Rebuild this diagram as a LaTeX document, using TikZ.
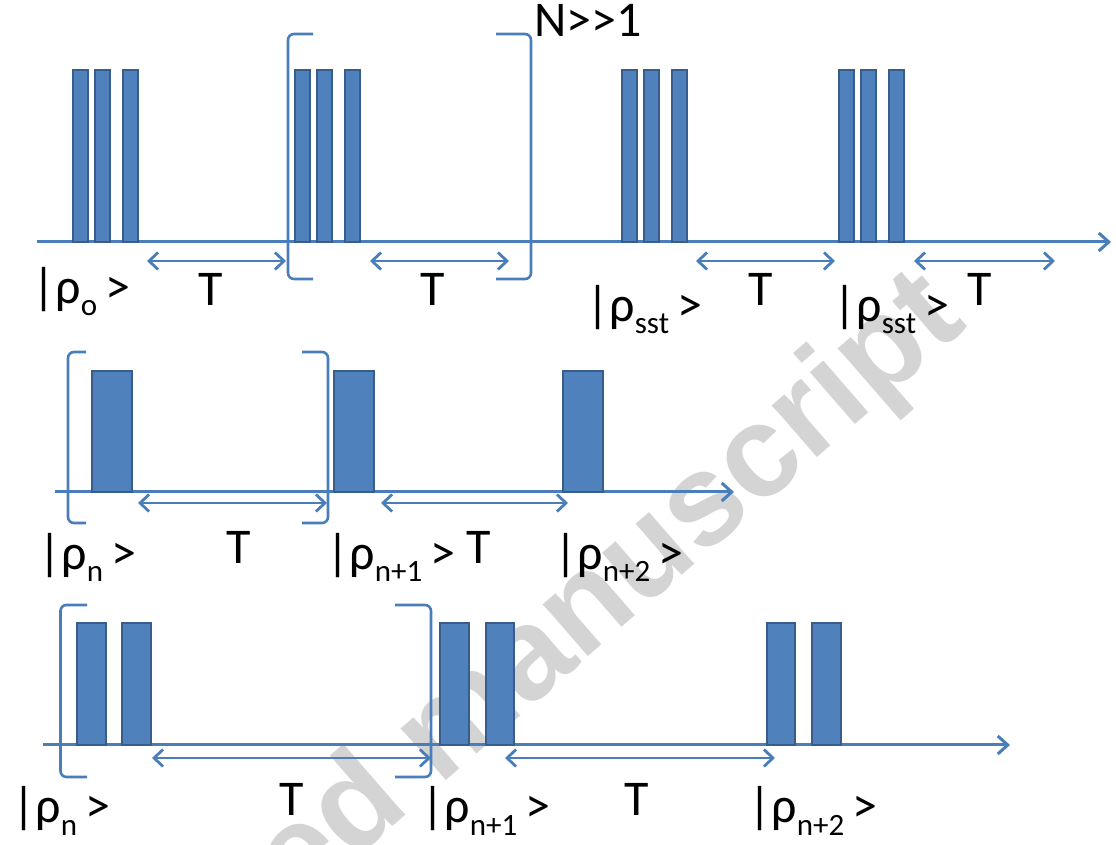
\documentclass[tikz,border=0pt]{standalone}
\usepackage{fontspec}
\setmainfont{Carlito}
\newfontfamily\stampfont{Liberation Sans}
\usepackage{xcolor}
\usetikzlibrary{arrows.meta}
\definecolor{cBar}{HTML}{4F81BD}
\definecolor{cBarEdge}{HTML}{385D8A}
\definecolor{cLine}{HTML}{4A7EBB}
\definecolor{cStamp}{HTML}{D4D4D4}
\newcommand{\rhoket}[1]{|ρ\raisebox{-6pt}{\fontsize{15.5}{15.5}\selectfont #1}\kern4pt>}
\tikzset{
  pulse/.style={draw=cBarEdge,fill=cBar,line width=1pt},
  timeaxis/.style={-{Straight Barb[length=5pt,width=9pt]},line width=1.5pt,draw=cLine},
  period/.style={{Straight Barb[length=4.5pt,width=8.5pt]}-{Straight Barb[length=4.5pt,width=8.5pt]},
                 line width=1.4pt,draw=cLine},
  bracket/.style={draw=cLine,line width=1.3pt,rounded corners=3pt},
  plabel/.style={anchor=base,inner sep=0pt,font=\fontsize{25}{30}\selectfont},
  slabel/.style={anchor=base west,inner sep=0pt,font=\fontsize{25}{30}\selectfont},
  stamp/.style={anchor=base,inner sep=0pt,rotate=41,text=cStamp,
                font=\stampfont\bfseries\fontsize{65}{65}\selectfont},
}

\begin{document}
\begin{tikzpicture}[x=0.5pt,y=-0.5pt]
\useasboundingbox (0,0) rectangle (1116,845);
\clip (0,0) rectangle (1116,845);
\fill[white] (0,0) rectangle (1116,845);

% ---------------------------------------------------------------- watermark
\node[stamp] (wm) at (470,760) {Accepted manuscript};

% ---------------------------------------------------------------- ROW 1
\coordinate (ax1s) at (37,242);
\coordinate (ax1e) at (1111,242);
\draw[timeaxis] (ax1s) -- (ax1e);

\draw[pulse] (72.5,70) rectangle ++(15,172);
\draw[pulse] (94.5,70) rectangle ++(15,172);
\draw[pulse] (122.5,70) rectangle ++(15,172);
\draw[pulse] (294.5,70) rectangle ++(15,172);
\draw[pulse] (316.5,70) rectangle ++(15,172);
\draw[pulse] (344.5,70) rectangle ++(15,172);
\draw[pulse] (621.5,70) rectangle ++(15,172);
\draw[pulse] (643.5,70) rectangle ++(15,172);
\draw[pulse] (671.5,70) rectangle ++(15,172);
\draw[pulse] (839,70) rectangle ++(15,172);
\draw[pulse] (861,70) rectangle ++(15,172);
\draw[pulse] (889,70) rectangle ++(15,172);

\draw[bracket] (313,34) -- (288,34) -- (288,279) -- (313,279);
\draw[bracket] (496,34) -- (531,34) -- (531,279) -- (496,279);

\coordinate (p1a) at (147,261);  \coordinate (p1b) at (286,261);
\coordinate (p2a) at (370,261);  \coordinate (p2b) at (509,261);
\coordinate (p3a) at (696,261);  \coordinate (p3b) at (835,261);
\coordinate (p4a) at (914,261);  \coordinate (p4b) at (1055,261);
\draw[period] (p1a) -- (p1b);
\draw[period] (p2a) -- (p2b);
\draw[period] (p3a) -- (p3b);
\draw[period] (p4a) -- (p4b);

\node[plabel] (T1) at (211,306) {T};
\node[plabel] (T2) at (433,306) {T};
\node[plabel] (T3) at (761,306) {T};
\node[plabel] (T4) at (980,306) {T};

\node[slabel] (N) at (534,37) {N>\kern0pt>1};
\node[slabel] (r0) at (32,304) {\rhoket{o}};
\node[slabel] (rs1) at (586,322) {\rhoket{sst}};
\node[slabel] (rs2) at (833,322) {\rhoket{sst}};

% ---------------------------------------------------------------- ROW 2
\coordinate (ax2s) at (55,492);
\coordinate (ax2e) at (734,492);
\draw[timeaxis] (ax2s) -- (ax2e);

\draw[pulse] (92,371) rectangle ++(40,121);
\draw[pulse] (333.5,371) rectangle ++(40,121);
\draw[pulse] (562.5,371) rectangle ++(40,121);

\draw[bracket] (86,352) -- (68,352) -- (68,523) -- (86,523);
\draw[bracket] (302,352) -- (328,352) -- (328,523) -- (302,523);

\coordinate (q1a) at (138,503);  \coordinate (q1b) at (327,503);
\coordinate (q2a) at (381,503);  \coordinate (q2b) at (568,503);
\draw[period] (q1a) -- (q1b);
\draw[period] (q2a) -- (q2b);

\node[plabel] (T5) at (239,564) {T};
\node[plabel] (T6) at (479,564) {T};

\node[slabel] (rn) at (38,570) {\rhoket{n}};
\node[slabel] (rn1) at (326,570) {\rhoket{n+1}};
\node[slabel] (rn2) at (554,570) {\rhoket{n+2}};

% ---------------------------------------------------------------- ROW 3
\coordinate (ax3s) at (43,745);
\coordinate (ax3e) at (1010,745);
\draw[timeaxis] (ax3s) -- (ax3e);

\draw[pulse] (77,623) rectangle ++(28.5,122);
\draw[pulse] (122,623) rectangle ++(28.5,122);
\draw[pulse] (440,623) rectangle ++(28.5,122);
\draw[pulse] (485.5,623) rectangle ++(28.5,122);
\draw[pulse] (766.5,623) rectangle ++(28.5,122);
\draw[pulse] (812,623) rectangle ++(28.5,122);

\draw[bracket] (87,605) -- (60.5,605) -- (60.5,777) -- (87,777);
\draw[bracket] (395,605) -- (431,605) -- (431,777) -- (395,777);

\coordinate (s1a) at (152,758);  \coordinate (s1b) at (431,758);
\coordinate (s2a) at (505,758);  \coordinate (s2b) at (775,758);
\draw[period] (s1a) -- (s1b);
\draw[period] (s2a) -- (s2b);

\node[plabel] (T7) at (292,816) {T};
\node[plabel] (T8) at (637,816) {T};

\node[slabel] (mn) at (12,823) {\rhoket{n}};
\node[slabel] (mn1) at (421,823) {\rhoket{n+1}};
\node[slabel] (mn2) at (748,823) {\rhoket{n+2}};

\end{tikzpicture}
\end{document}
